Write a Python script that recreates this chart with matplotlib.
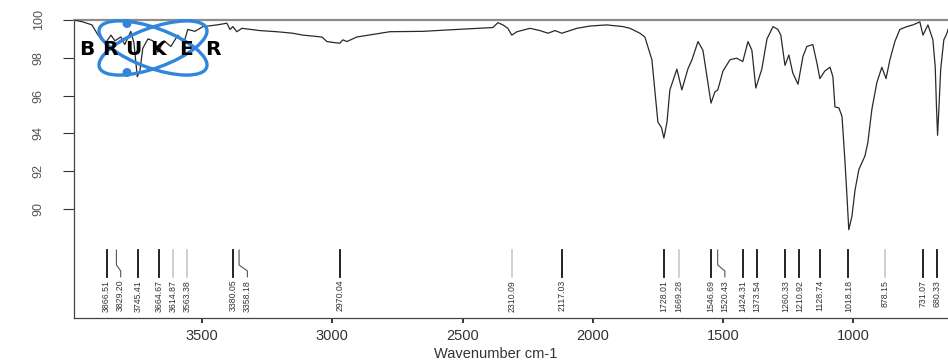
import matplotlib
matplotlib.use("Agg")
import matplotlib.pyplot as plt
from matplotlib.patches import Ellipse, Circle
from matplotlib.transforms import blended_transform_factory

# ---------------- data ----------------
wavenumber = [3992, 3958, 3923, 3904, 3889, 3870, 3850, 3835, 3812, 3797, 3774, 3762,
              3749, 3739, 3728, 3708, 3689, 3670, 3647, 3620, 3593, 3570, 3555, 3528,
              3497, 3443, 3405, 3393, 3382, 3367, 3347, 3278, 3213, 3152, 3113, 3040,
              3021, 2990, 2971, 2960, 2944, 2906, 2779, 2652, 2522, 2384, 2364, 2345,
              2326, 2311, 2291, 2241, 2203, 2172, 2145, 2119, 2061, 2011, 1946, 1884,
              1857, 1819, 1800, 1773, 1761, 1750, 1736, 1727, 1715, 1704, 1677, 1658,
              1635, 1619, 1596, 1577, 1558, 1546, 1531, 1520, 1500, 1473, 1447, 1424,
              1404, 1389, 1374, 1351, 1331, 1308, 1289, 1278, 1262, 1247, 1232, 1212,
              1193, 1178, 1155, 1139, 1128, 1109, 1089, 1078, 1070, 1055, 1043, 1032,
              1024, 1017, 1005, 993, 978, 955, 944, 928, 909, 890, 874, 859, 840, 821,
              794, 771, 744, 732, 713, 694, 685, 680, 676, 671, 664, 652, 640, 636]
transmittance = [100.0, 99.9, 99.74, 99.3, 99.0, 98.8, 99.2, 98.9, 99.1, 98.7, 99.4, 98.8,
                 97.0, 97.3, 98.5, 99.0, 98.9, 98.3, 98.9, 98.6, 99.2, 98.8, 99.5, 99.4,
                 99.65, 99.74, 99.83, 99.5, 99.65, 99.38, 99.56, 99.44, 99.38, 99.3, 99.2, 99.1,
                 98.86, 98.8, 98.77, 98.95, 98.86, 99.1, 99.38, 99.4, 99.5, 99.6, 99.86, 99.74,
                 99.56, 99.2, 99.38, 99.56, 99.44, 99.3, 99.44, 99.3, 99.56, 99.68, 99.74, 99.65,
                 99.56, 99.3, 99.1, 97.9, 96.2, 94.6, 94.3, 93.75, 94.6, 96.3, 97.4, 96.3,
                 97.4, 97.9, 98.86, 98.4, 96.7, 95.6, 96.2, 96.3, 97.3, 97.9, 97.98, 97.8,
                 98.86, 98.4, 96.4, 97.4, 99.0, 99.65, 99.5, 99.2, 97.6, 98.15, 97.2, 96.6,
                 98.07, 98.6, 98.7, 97.7, 96.9, 97.3, 97.5, 97.0, 95.4, 95.35, 94.9, 92.6,
                 90.7, 88.9, 89.6, 91.0, 92.1, 92.8, 93.5, 95.3, 96.7, 97.5, 96.9, 97.9, 98.86, 99.5,
                 99.65, 99.74, 99.9, 99.2, 99.74, 98.95, 97.5, 95.3, 93.9, 95.3, 97.4, 98.95, 99.3, 99.5]

peak_positions = [3866.51, 3829.20, 3745.41, 3664.67, 3614.87, 3563.38, 3380.05, 3358.18,
                  2970.04, 2310.09, 2117.03, 1728.01, 1669.28, 1546.69, 1520.43, 1424.31,
                  1373.54, 1260.33, 1210.92, 1128.74, 1018.18, 878.15, 731.07, 680.33]
weak_peaks = [3614.87, 3563.38, 2310.09, 1669.28, 878.15]

x_ticks = [3500, 3000, 2500, 2000, 1500, 1000]
y_ticks = [90, 92, 94, 96, 98, 100]
x_label = "Wavenumber cm-1"
logo_text = "BRUKER"

# ---------------- figure ----------------
plt.rcParams['font.family'] = ['Liberation Sans', 'DejaVu Sans']
W, H = 948, 360
fig = plt.figure(figsize=(W / 100, H / 100), dpi=100)
ax = fig.add_axes([74 / W, 42 / H, (W - 74) / W, 298 / H])

XL, XR = 3992, 636
ax.plot(wavenumber, transmittance, color='#2a2a2a', lw=0.9, zorder=3)
ax.set_xlim(XL, XR)
ax.set_ylim(84.23, 100.0)

ax.set_xticks(x_ticks)
ax.set_xticklabels([str(v) for v in x_ticks])
ax.set_yticks(y_ticks)
ax.set_yticklabels([str(v) for v in y_ticks])

ax.tick_params(axis='x', direction='out', length=3.6, width=1.1, pad=4.5,
               labelsize=10.5, labelcolor='#333333')
ax.tick_params(axis='y', direction='out', length=8, width=0.8, pad=13,
               labelsize=9, labelcolor='#555555', color='#333333', labelrotation=90)
for lbl in ax.get_yticklabels():
    lbl.set_va('center')
for t, val in zip(ax.xaxis.get_major_ticks(), x_ticks):
    t.tick1line.set_color('#222222' if val % 1000 == 500 else '#bbbbbb')

ax.set_xlabel(x_label, fontsize=10.5, color='#333333')
ax.xaxis.set_label_coords(0.483, -0.097)

for s in ['left', 'bottom']:
    ax.spines[s].set_color('#444444')
    ax.spines[s].set_linewidth(0.9)
ax.spines['top'].set_color('#8c8c8c')
ax.spines['top'].set_linewidth(1.6)
ax.spines['right'].set_visible(False)

# ---------------- peak picking marks ----------------
trans = blended_transform_factory(ax.transData, ax.transAxes)
wn_per_px = (XL - XR) / (W - 74)
min_gap = 14 * wn_per_px
label_pos = []
for p in peak_positions:
    if label_pos and label_pos[-1] - p < min_gap:
        label_pos.append(label_pos[-1] - min_gap)
    else:
        label_pos.append(p)

y_top, y_k1, y_k2, y_bot, y_lab = 0.228, 0.178, 0.158, 0.138, 0.128
for p, lp in zip(peak_positions, label_pos):
    weak = p in weak_peaks
    if abs(lp - p) > 2 * wn_per_px:
        ax.plot([p, p, lp, lp], [y_top, y_k1, y_k2, y_bot], transform=trans,
                color='#555555', lw=0.8, clip_on=False, zorder=2)
    else:
        ax.plot([lp, lp], [y_top, y_bot], transform=trans,
                color='#c4c4c4' if weak else '#111111',
                lw=1.1 if weak else 1.3, clip_on=False, zorder=2)
    ax.text(lp, y_lab, f"{p:.2f}", transform=trans, rotation=90, ha='center',
            va='top', fontsize=6.3, color='#333333')

# ---------------- logo overlay ----------------
ov = fig.add_axes([0, 0, 1, 1], zorder=5)
ov.set_xlim(0, W)
ov.set_ylim(H, 0)
ov.axis('off')
ov.patch.set_visible(False)
blue = '#2f86db'
for ang in (20, -20):
    ov.add_patch(Ellipse((153, 48), 114, 40, angle=ang, fill=False,
                         edgecolor=blue, lw=2.4))
ov.add_patch(Circle((127, 23.5), 3.8, color=blue))
ov.add_patch(Circle((127, 72.5), 3.8, color=blue))
for ch, cx in zip(logo_text, [87, 110, 133, 158, 186, 213]):
    ov.text(cx, 49.5, ch, ha='center', va='center', fontsize=14.5,
            fontweight='heavy', family='DejaVu Sans', color='black')

fig.savefig('out.png', dpi=100)
